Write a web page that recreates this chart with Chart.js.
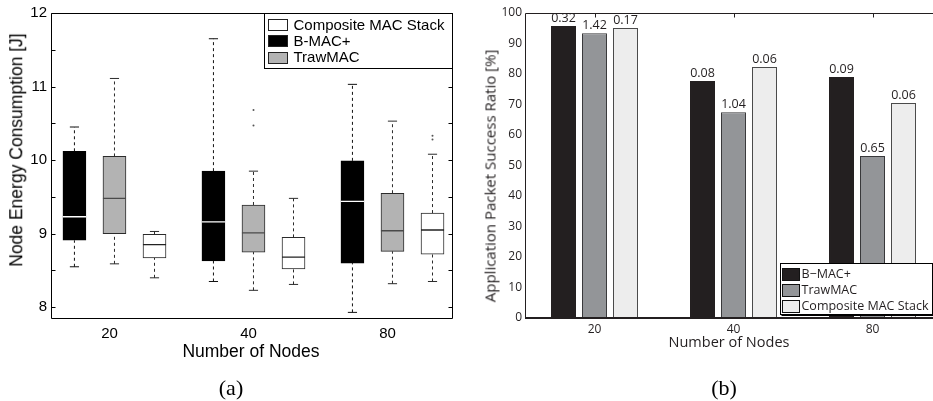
<!DOCTYPE html>
<html>
<head>
<meta charset="utf-8">
<script src="https://cdn.jsdelivr.net/npm/chart.js@4.4.1/dist/chart.umd.min.js"></script>
<style>
  html, body { margin: 0; padding: 0; background: #fff; overflow: hidden; }
  body { width: 933px; height: 401px; position: relative; }
  canvas { position: absolute; top: 0; }
  #energy { left: 0; }
  #success { left: 470px; }
  .lbl { position: absolute; white-space: nowrap; line-height: 1; transform: translate(-50%, -50%); }
  .rot { transform: translate(-50%, -50%) rotate(-90deg); }
  .sans { font-family: 'Liberation Sans', Arial, sans-serif; color: #000; }
  .open { font-family: 'Open Sans', sans-serif; color: #231f20; }
  .serif { font-family: 'Liberation Serif', 'Times New Roman', serif; color: #000; font-size: 22px; }
</style>
</head>
<body>
<canvas id="energy" width="470" height="401" style="width:470px;height:401px"></canvas>
<canvas id="success" width="480" height="401" style="width:480px;height:401px"></canvas>

<div class="lbl rot sans" style="left:17px;top:150px;font-size:17.5px;">Node Energy Consumption [J]</div>
<div class="lbl sans" style="left:251px;top:352px;font-size:17.5px;">Number of Nodes</div>
<div class="lbl serif" style="left:231px;top:388px;">(a)</div>

<div class="lbl rot open" style="left:490px;top:176px;font-size:15px;">Application Packet Success Ratio [%]</div>
<div class="lbl open" style="left:729px;top:342px;font-size:14.5px;">Number of Nodes</div>
<div class="lbl serif" style="left:724px;top:388px;">(b)</div>

<script>
// ---- data ----
const nodeCounts = ['20', '40', '80'];

// energy per node count: [lower whisker, Q1, median, Q3, upper whisker]
const bmacEnergy = [
  [8.55, 8.91, 9.23, 10.12, 10.45],
  [8.35, 8.63, 9.16, 9.85, 11.65],
  [7.93, 8.60, 9.44, 9.99, 11.03]
];
const trawEnergy = [
  [8.59, 9.00, 9.48, 10.05, 11.11],
  [8.23, 8.75, 9.01, 9.39, 9.85],
  [8.32, 8.76, 9.04, 9.55, 10.53]
];
const compositeEnergy = [
  [8.40, 8.67, 8.85, 8.99, 9.03],
  [8.31, 8.52, 8.68, 8.95, 9.48],
  [8.35, 8.72, 9.05, 9.28, 10.08]
];
const bmacOutliers = [[], [], []];
const trawOutliers = [[], [10.47, 10.68], []];
const compositeOutliers = [[], [], [10.28, 10.33]];
const energyTicks = [8, 8.5, 9, 9.5, 10, 10.5, 11, 11.5, 12];

// packet success ratio [%] and the spread printed above each bar
const bmacSuccess = [95.7, 77.7, 79.0];
const trawSuccess = [93.4, 67.5, 53.1];
const compositeSuccess = [95.1, 82.3, 70.5];
const bmacSpread = ['0.32', '0.08', '0.09'];
const trawSpread = ['1.42', '1.04', '0.65'];
const compositeSpread = ['0.17', '0.06', '0.06'];
const successTicks = [0, 10, 20, 30, 40, 50, 60, 70, 80, 90, 100];

// ---- box plot (a) ----
const GROUP_STEP = 0.288;   // distance between boxes inside a group (x units)
const BOX_HALF = 0.083;     // half box width (x units)
const CAP_HALF = 0.033;     // half whisker cap width (x units)

const energySeries = [
  { label: 'B-MAC+', stats: bmacEnergy, outliers: bmacOutliers, shift: -1,
    fill: '#000000', edge: '#000000', median: '#ffffff', whisker: '#111111' },
  { label: 'TrawMAC', stats: trawEnergy, outliers: trawOutliers, shift: 0,
    fill: '#b3b3b3', edge: '#2b2b2b', median: '#4a4a4a', whisker: '#2b2b2b' },
  { label: 'Composite MAC Stack', stats: compositeEnergy, outliers: compositeOutliers, shift: 1,
    fill: '#ffffff', edge: '#2b2b2b', median: '#222222', whisker: '#2b2b2b' }
];

const energyDatasets = [];
energySeries.forEach(s => {
  const centers = s.stats.map((_, i) => i + 1 + s.shift * GROUP_STEP);
  energyDatasets.push({
    type: 'bar', label: s.label, order: 3,
    data: s.stats.map((q, i) => ({ x: centers[i], y: [q[1], q[3]] })),
    backgroundColor: s.fill, borderColor: s.edge, borderWidth: 1,
    borderSkipped: false, barThickness: 23, grouped: false
  });
  const lineBase = { type: 'line', pointRadius: 0, fill: false, tension: 0, spanGaps: false, borderWidth: 1 };
  energyDatasets.push(Object.assign({}, lineBase, {
    label: s.label + ' median', order: 1, borderColor: s.median, borderWidth: 1.3,
    data: s.stats.flatMap((q, i) => [
      { x: centers[i] - BOX_HALF, y: q[2] }, { x: centers[i] + BOX_HALF, y: q[2] }, { x: centers[i], y: null }
    ])
  }));
  energyDatasets.push(Object.assign({}, lineBase, {
    label: s.label + ' whiskers', order: 2, borderColor: s.whisker, borderDash: [3, 3],
    data: s.stats.flatMap((q, i) => [
      { x: centers[i], y: q[3] }, { x: centers[i], y: q[4] }, { x: centers[i], y: null },
      { x: centers[i], y: q[0] }, { x: centers[i], y: q[1] }, { x: centers[i], y: null }
    ])
  }));
  energyDatasets.push(Object.assign({}, lineBase, {
    label: s.label + ' caps', order: 2, borderColor: s.whisker,
    data: s.stats.flatMap((q, i) => [
      { x: centers[i] - CAP_HALF, y: q[4] }, { x: centers[i] + CAP_HALF, y: q[4] }, { x: centers[i], y: null },
      { x: centers[i] - CAP_HALF, y: q[0] }, { x: centers[i] + CAP_HALF, y: q[0] }, { x: centers[i], y: null }
    ])
  }));
  energyDatasets.push({
    type: 'scatter', label: s.label + ' outliers', order: 0,
    data: s.outliers.flatMap((vals, i) => vals.map(v => ({ x: centers[i], y: v }))),
    pointRadius: 1, pointBackgroundColor: '#555', pointBorderWidth: 0
  });
});

const energyFrame = {
  id: 'energyFrame',
  afterDraw(chart) {
    const { ctx, chartArea: a, scales: { y } } = chart;
    const L = Math.round(a.left) + 0.5, R = Math.round(a.right) - 0.5;
    const T = Math.round(a.top) + 0.5, B = Math.round(a.bottom) - 0.5;
    ctx.save();
    ctx.strokeStyle = '#000';
    ctx.lineWidth = 1;
    ctx.beginPath();
    ctx.rect(L, T, R - L, B - T);
    energyTicks.forEach(v => {
      const py = Math.round(y.getPixelForValue(v)) + 0.5;
      ctx.moveTo(L, py); ctx.lineTo(L + 4, py);
      ctx.moveTo(R, py); ctx.lineTo(R - 4, py);
    });
    ctx.stroke();

    // legend box in the upper right corner
    const order = [2, 0, 1];
    const bx = Math.round(a.right) - 189 + 0.5, by = T, bw = 188, bh = 55;
    ctx.fillStyle = '#fff';
    ctx.fillRect(bx, by, bw, bh);
    ctx.strokeRect(bx, by, bw, bh);
    ctx.font = "15px 'Liberation Sans', Arial, sans-serif";
    ctx.textBaseline = 'middle';
    ctx.textAlign = 'left';
    order.forEach((k, row) => {
      const s = energySeries[k];
      const cy = by + 11 + row * 16.3;
      ctx.fillStyle = s.fill;
      ctx.fillRect(bx + 4, Math.round(cy - 5.5) + 0.5, 19, 11);
      ctx.strokeStyle = '#222';
      ctx.strokeRect(bx + 4, Math.round(cy - 5.5) + 0.5, 19, 11);
      ctx.fillStyle = '#000';
      ctx.fillText(s.label, bx + 29, cy + 1);
    });
    ctx.restore();
  }
};

new Chart(document.getElementById('energy'), {
  type: 'bar',
  data: { datasets: energyDatasets },
  options: {
    responsive: false, animation: false, events: [], devicePixelRatio: 1,
    layout: { padding: { left: 0, top: 7, right: 17, bottom: 0 } },
    plugins: { legend: { display: false }, tooltip: { enabled: false } },
    scales: {
      x: {
        type: 'linear', min: 0.5434, max: 3.4354, offset: false,
        grid: { display: false, drawTicks: false }, border: { display: false },
        afterBuildTicks: s => { s.ticks = nodeCounts.map((_, i) => ({ value: i + 1 })); },
        afterFit: s => { s.height = 82; },
        ticks: {
          autoSkip: false, maxRotation: 0, padding: 6, labelOffset: -5, color: '#000',
          font: { family: "'Liberation Sans', Arial, sans-serif", size: 15 },
          callback: (v, i) => nodeCounts[i]
        }
      },
      y: {
        type: 'linear', min: 7.84, max: 12,
        grid: { display: false, drawTicks: false }, border: { display: false },
        afterBuildTicks: s => { s.ticks = energyTicks.map(v => ({ value: v })); },
        afterFit: s => { s.width = 51; },
        ticks: {
          autoSkip: false, padding: 4, color: '#000',
          font: { family: "'Liberation Sans', Arial, sans-serif", size: 15 },
          callback: v => Number.isInteger(v) ? String(v) : ''
        }
      }
    }
  },
  plugins: [energyFrame]
});

// ---- bar chart (b) ----
const successSeries = [
  { label: 'B\u2212MAC+', values: bmacSuccess, spread: bmacSpread, fill: '#231f20', edge: '#231f20' },
  { label: 'TrawMAC', values: trawSuccess, spread: trawSpread, fill: '#939598', edge: '#38383a' },
  { label: 'Composite MAC Stack', values: compositeSuccess, spread: compositeSpread, fill: '#ededed', edge: '#4a4a4a' }
];

const successFrame = {
  id: 'successFrame',
  afterDraw(chart) {
    const { ctx, chartArea: a, scales: { x } } = chart;
    const L = Math.round(a.left) + 0.5, T = Math.round(a.top) + 0.5, B = Math.round(a.bottom);
    ctx.save();
    ctx.strokeStyle = '#231f20';
    ctx.lineWidth = 1;
    ctx.beginPath();
    ctx.moveTo(L, B); ctx.lineTo(L, T); ctx.lineTo(a.right, T);
    nodeCounts.forEach((_, i) => {
      const px = Math.round(x.getPixelForValue(i)) + 0.5;
      ctx.moveTo(px, T); ctx.lineTo(px, T + 4);
    });
    ctx.stroke();
    ctx.lineWidth = 2;
    ctx.beginPath();
    ctx.moveTo(L - 0.5, B); ctx.lineTo(a.right, B);
    ctx.stroke();

    // spread values above the bars
    ctx.fillStyle = '#231f20';
    ctx.font = "12.5px 'Open Sans', sans-serif";
    ctx.textAlign = 'center';
    ctx.textBaseline = 'alphabetic';
    successSeries.forEach((s, d) => {
      chart.getDatasetMeta(d).data.forEach((bar, i) => {
        ctx.fillText(s.spread[i], bar.x, bar.y - 4);
      });
    });

    // legend box in the lower right corner
    const right = Math.round(a.right) - 10 + 0.5, bottom = B - 4 + 0.5;
    const bw = 152, bh = 51, bx = right - bw, by = bottom - bh;
    ctx.fillStyle = '#fff';
    ctx.fillRect(bx, by, bw, bh);
    ctx.lineWidth = 1;
    ctx.strokeStyle = '#000';
    ctx.strokeRect(bx, by, bw, bh);
    ctx.beginPath();
    ctx.moveTo(bx + 1, by + bh + 1); ctx.lineTo(bx + bw + 1, by + bh + 1); ctx.lineTo(bx + bw + 1, by + 1);
    ctx.stroke();
    ctx.font = "12.5px 'Open Sans', sans-serif";
    ctx.textAlign = 'left';
    ctx.textBaseline = 'middle';
    successSeries.forEach((s, row) => {
      const cy = by + 10 + row * 16;
      ctx.fillStyle = s.fill;
      ctx.fillRect(bx + 2, Math.round(cy - 6) + 0.5, 17, 12);
      ctx.strokeStyle = '#111';
      ctx.strokeRect(bx + 2, Math.round(cy - 6) + 0.5, 17, 12);
      ctx.fillStyle = '#231f20';
      ctx.fillText(s.label, bx + 21, cy + 1);
    });
    ctx.restore();
  }
};

new Chart(document.getElementById('success'), {
  type: 'bar',
  data: {
    labels: nodeCounts,
    datasets: successSeries.map(s => ({
      label: s.label, data: s.values,
      backgroundColor: s.fill, borderColor: s.edge, borderWidth: 1, borderSkipped: false,
      categoryPercentage: 0.669, barPercentage: 0.806
    }))
  },
  options: {
    responsive: false, animation: false, events: [], devicePixelRatio: 1,
    layout: { padding: { left: 0, top: 13, right: 8, bottom: 0 } },
    plugins: { legend: { display: false }, tooltip: { enabled: false } },
    scales: {
      x: {
        type: 'category', offset: true,
        grid: { display: false, drawTicks: false }, border: { display: false },
        afterFit: s => { s.height = 83; },
        ticks: {
          autoSkip: false, maxRotation: 0, padding: 4, color: '#231f20',
          font: { family: "'Open Sans', sans-serif", size: 12 }
        }
      },
      y: {
        type: 'linear', min: 0, max: 100,
        grid: { display: false, drawTicks: false }, border: { display: false },
        afterBuildTicks: s => { s.ticks = successTicks.map(v => ({ value: v })); },
        afterFit: s => { s.width = 55; },
        ticks: {
          autoSkip: false, padding: 3, color: '#231f20',
          font: { family: "'Open Sans', sans-serif", size: 12 }
        }
      }
    }
  },
  plugins: [successFrame]
});
</script>
</body>
</html>
